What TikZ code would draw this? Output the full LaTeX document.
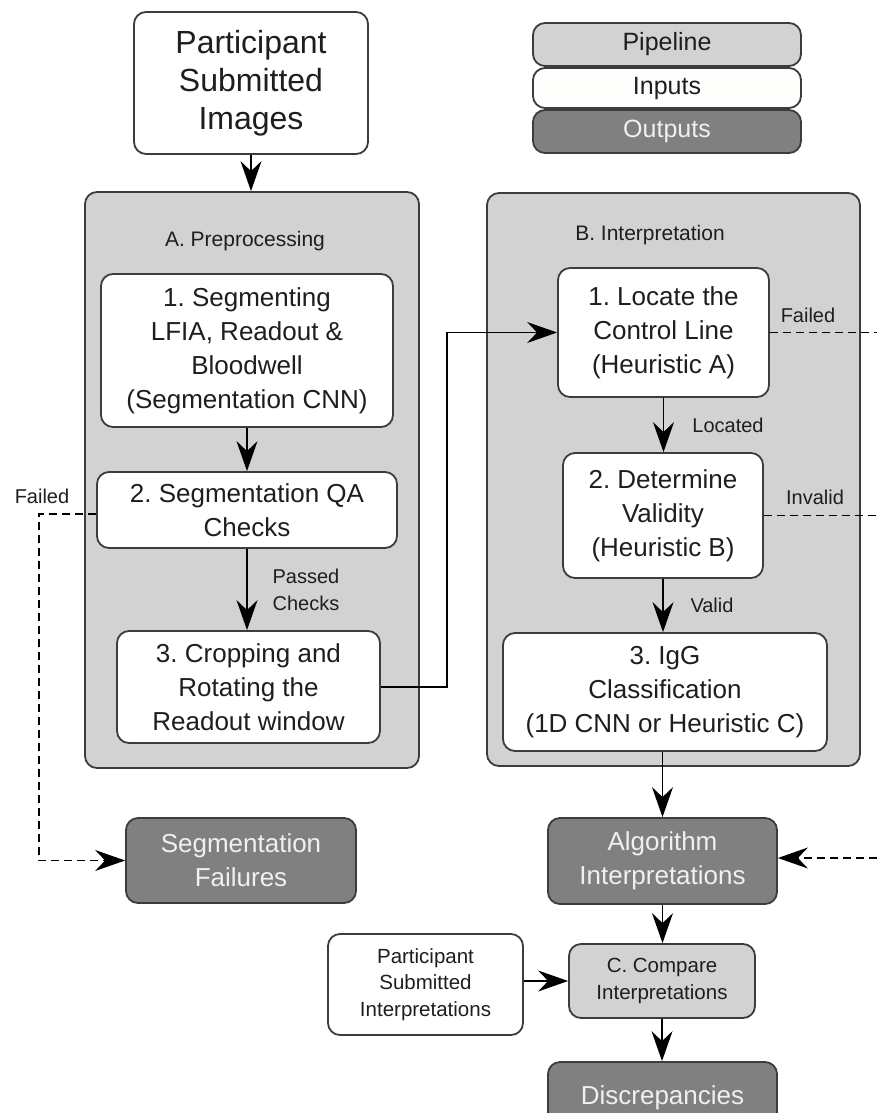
\documentclass[tikz,border=0pt]{standalone}
\usepackage{fontspec}
\setmainfont{Liberation Sans}
\usetikzlibrary{arrows.meta,calc}
\definecolor{pipe}{RGB}{210,210,210}
\definecolor{outc}{RGB}{128,128,128}
\definecolor{inc}{RGB}{254,254,252}
\definecolor{edgec}{RGB}{60,60,60}
\definecolor{txtc}{RGB}{30,30,30}
\definecolor{outtxt}{RGB}{240,240,240}
\newcommand\fsz[2]{\fontsize{#1}{#2}\selectfont}
\frenchspacing
\tikzset{
  box/.style={draw=edgec, line width=1.8pt, rounded corners=12pt, inner sep=0pt,
    align=center, text=txtc, font=\fsz{26}{34}},
  inbox/.style={box, fill=white},
  pipebox/.style={box, fill=pipe},
  outbox/.style={box, fill=outc, text=outtxt},
  grp/.style={draw=edgec, line width=1.8pt, rounded corners=12pt, fill=pipe, inner sep=0pt},
  lbl/.style={text=txtc, font=\fsz{20}{27}, align=center, inner sep=0pt},
  arr/.style={line width=1.5pt, -{Stealth[length=30pt, width=21pt, inset=10pt]}},
  dsh/.style={line width=1.5pt, dash pattern=on 8pt off 5pt},
  darr/.style={dsh, -{Stealth[length=30pt, width=21pt, inset=10pt]}},
}
\begin{document}
\begin{tikzpicture}[x=1pt, y=-1pt]
\useasboundingbox (0,0) rectangle (877,1113);
\clip (0,0) rectangle (877,1113);
\fill[white] (0,0) rectangle (877,1113);

% input
\node[inbox, minimum width=234pt, minimum height=142pt, font=\fsz{32}{38}] (top) at (251,83)
  {Participant\\Submitted\\Images};

% legend
\node[pipebox, minimum width=268pt, minimum height=43pt, font=\fsz{25}{30}] (legP) at (667,44.5) {Pipeline};
\node[box, fill=inc, minimum width=268pt, minimum height=40pt, font=\fsz{25}{30}] (legI) at (667,88) {Inputs};
\node[outbox, minimum width=268pt, minimum height=43pt, font=\fsz{25}{30}] (legO) at (667,131.5) {Outputs};

% group A
\node[grp, minimum width=334pt, minimum height=576pt] (grpA) at (252,480) {};
\node[lbl, font=\fsz{21}{27}] (labA) at (245,241) {A. Preprocessing};
\node[inbox, minimum width=292pt, minimum height=153pt] (A1) at (247,350.5)
  {1. Segmenting\\LFIA, Readout \&\\Bloodwell\\(Segmentation CNN)};
\node[inbox, minimum width=300pt, minimum height=76pt] (A2) at (247,510)
  {2. Segmentation QA\\Checks};
\node[inbox, minimum width=263pt, minimum height=112pt] (A3) at (248.5,687)
  {3. Cropping and\\Rotating the\\Readout window};

% group B
\node[grp, minimum width=373pt, minimum height=573pt] (grpB) at (673.5,479.5) {};
\node[lbl, font=\fsz{21}{27}] (labB) at (650,235) {B. Interpretation};
\node[inbox, minimum width=211pt, minimum height=129pt] (B1) at (663.5,332.5)
  {1. Locate the\\Control Line\\(Heuristic A)};
\node[inbox, minimum width=200pt, minimum height=125pt] (B2) at (663,515.5)
  {2. Determine\\Validity\\(Heuristic B)};
\node[inbox, minimum width=324pt, minimum height=118pt] (B3) at (665,692)
  {3. IgG\\Classification\\(1D CNN or Heuristic C)};

% outputs
\node[outbox, minimum width=230pt, minimum height=85pt] (Seg) at (241,860.5)
  {Segmentation\\Failures};
\node[outbox, minimum width=229pt, minimum height=86pt] (Alg) at (662.5,861)
  {Algorithm\\Interpretations};
\node[inbox, minimum width=195pt, minimum height=101pt, font=\fsz{20.5}{26.5}] (PSI) at (425.5,984.5)
  {Participant\\Submitted\\Interpretations};
\node[pipebox, minimum width=186pt, minimum height=74pt, font=\fsz{20.5}{26.5}] (Cmp) at (662,981)
  {C. Compare\\Interpretations};
\node[outbox, minimum width=229pt, minimum height=72pt] (Disc) at (662.5,1098)
  {Discrepancies};

% connectors
\draw[arr] (top.south) -- (top.south |- grpA.north);
\draw[arr] (A1.south) -- (A1.south |- A2.north);
\draw[arr] (A2.south) -- (A2.south |- A3.north);
\node[lbl] (lpass) at (306,590) {Passed\\Checks};
\draw[arr] (A3.east) -- ++(66,0) |- (B1.west);
\draw[arr] (B1.south) -- (B1.south |- B2.north);
\node[lbl] (lloc) at (728,425) {Located};
\draw[arr] (B2.south) -- (B2.south |- B3.north);
\node[lbl] (lval) at (712,605) {Valid};
\draw[arr] (Alg.north |- B3.south) -- (Alg.north);
\draw[arr] (Alg.south) -- (Alg.south |- Cmp.north);
\draw[arr] (PSI.east |- Cmp.west) -- (Cmp.west);
\draw[arr] (Cmp.south) -- (Cmp.south |- Disc.north);

% dashed
\coordinate (f1) at (877,332.5);
\coordinate (f2) at (877,515.5);
\coordinate (f3) at (877,858);
\coordinate (fa) at (39,514);
\draw[dsh] (B1.east) -- (f1);
\node[lbl] (lf1) at (808,315) {Failed};
\draw[dsh] (B2.east) -- (f2);
\node[lbl] (linv) at (815,497) {Invalid};
\draw[darr] (f3) -- (f3 -| Alg.east);
\draw[darr] (A2.west |- fa) -- (fa) |- (Seg.west);
\node[lbl] (lf2) at (42,496) {Failed};
\end{tikzpicture}
\end{document}
